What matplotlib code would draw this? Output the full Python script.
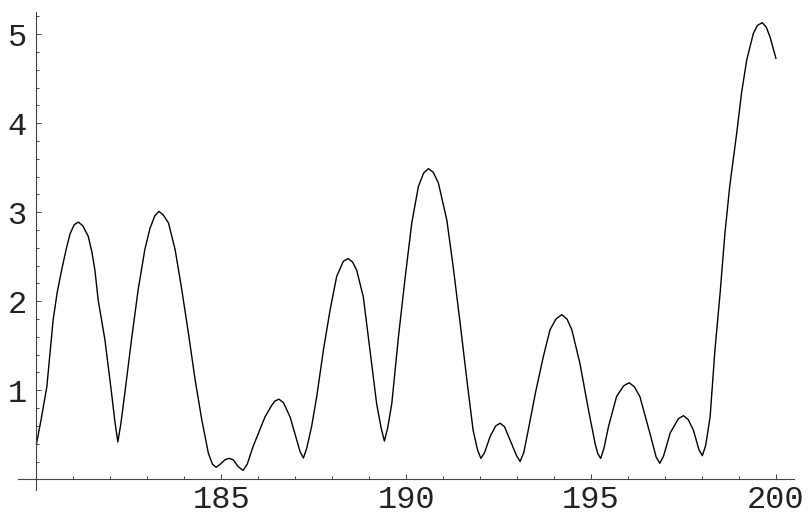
import numpy as np
import matplotlib.pyplot as plt
from matplotlib.ticker import FixedLocator

# values
t = [180.00, 180.12, 180.28, 180.45, 180.56, 180.68, 180.80, 180.91, 181.02, 181.13,
     181.25, 181.40, 181.50, 181.58, 181.67, 181.85, 182.03, 182.12, 182.20, 182.28,
     182.39, 182.57, 182.75, 182.93, 183.07, 183.20, 183.31, 183.43, 183.57, 183.75,
     183.93, 184.11, 184.29, 184.47, 184.65, 184.76, 184.86, 184.97, 185.10, 185.21,
     185.32, 185.46, 185.59, 185.70, 185.86, 186.18, 186.36, 186.45, 186.56, 186.68,
     186.86, 187.04, 187.13, 187.22, 187.31, 187.44, 187.58, 187.76, 187.94, 188.12,
     188.30, 188.43, 188.55, 188.66, 188.84, 189.02, 189.20, 189.32, 189.41, 189.50,
     189.61, 189.79, 189.97, 190.15, 190.33, 190.47, 190.60, 190.73, 190.87, 191.10,
     191.27, 191.46, 191.64, 191.81, 191.93, 192.02, 192.12, 192.27, 192.42, 192.54,
     192.66, 192.81, 192.98, 193.08, 193.18, 193.30, 193.50, 193.71, 193.89, 194.05,
     194.21, 194.35, 194.48, 194.70, 194.93, 195.11, 195.18, 195.26, 195.35, 195.47,
     195.69, 195.88, 196.03, 196.17, 196.32, 196.59, 196.76, 196.86, 196.96, 197.14,
     197.36, 197.50, 197.63, 197.77, 197.92, 198.01, 198.10, 198.22, 198.35, 198.49,
     198.62, 198.75, 198.94, 199.07, 199.21, 199.39, 199.50, 199.63, 199.74, 199.84,
     200.00]
v = [0.40, 0.66, 1.04, 1.79, 2.10, 2.35, 2.58, 2.76, 2.86, 2.89,
     2.85, 2.73, 2.55, 2.35, 2.01, 1.57, 0.97, 0.65, 0.42, 0.62,
     0.97, 1.57, 2.13, 2.58, 2.82, 2.96, 3.01, 2.97, 2.88, 2.58,
     2.13, 1.64, 1.12, 0.67, 0.29, 0.17, 0.135, 0.17, 0.22, 0.235,
     0.22, 0.14, 0.10, 0.17, 0.37, 0.70, 0.83, 0.88, 0.90, 0.86,
     0.70, 0.44, 0.31, 0.24, 0.35, 0.59, 0.93, 1.45, 1.90, 2.28,
     2.45, 2.48, 2.44, 2.35, 2.05, 1.45, 0.85, 0.58, 0.43, 0.58,
     0.85, 1.60, 2.26, 2.88, 3.29, 3.44, 3.49, 3.45, 3.33, 2.91,
     2.39, 1.75, 1.12, 0.55, 0.33, 0.235, 0.30, 0.48, 0.60, 0.63,
     0.59, 0.44, 0.27, 0.20, 0.30, 0.55, 0.98, 1.38, 1.68, 1.80,
     1.85, 1.80, 1.68, 1.30, 0.78, 0.40, 0.29, 0.235, 0.35, 0.59,
     0.93, 1.05, 1.085, 1.04, 0.93, 0.52, 0.25, 0.18, 0.26, 0.52,
     0.68, 0.715, 0.67, 0.55, 0.33, 0.265, 0.38, 0.70, 1.45, 2.09,
     2.76, 3.29, 3.89, 4.34, 4.71, 5.01, 5.10, 5.13, 5.08, 4.97,
     4.73]

x_major = [185, 190, 195, 200]
x_minor = [181, 182, 183, 184, 186, 187, 188, 189, 191, 192, 193, 194, 196, 197, 198, 199]
y_major = [1, 2, 3, 4, 5]
y_minor = [0.2, 0.4, 0.6, 0.8, 1.2, 1.4, 1.6, 1.8, 2.2, 2.4, 2.6, 2.8, 3.2, 3.4, 3.6, 3.8,
           4.2, 4.4, 4.6, 4.8, 5.2]

fig = plt.figure(figsize=(8.12, 5.19), dpi=100)
ax = fig.add_axes([0, 0, 1, 1])
ax.plot(t, v, color='black', lw=1.0, solid_joinstyle='round')

ax.set_xlim(179.013, 200.976)
ax.set_ylim(-0.446, 5.385)

for s in ['top', 'right']:
    ax.spines[s].set_visible(False)
ax.spines['bottom'].set_position(('data', 0))
ax.spines['left'].set_position(('data', 180))
ax.spines['bottom'].set_bounds(179.5, 200.5)
ax.spines['left'].set_bounds(-0.12, 5.25)
for s in ['bottom', 'left']:
    ax.spines[s].set_color('#444444')
    ax.spines[s].set_linewidth(0.8)

ax.xaxis.set_major_locator(FixedLocator(x_major))
ax.xaxis.set_minor_locator(FixedLocator(x_minor))
ax.yaxis.set_major_locator(FixedLocator(y_major))
ax.yaxis.set_minor_locator(FixedLocator(y_minor))
ax.set_xticklabels([str(x) for x in x_major])
ax.set_yticklabels([str(y) for y in y_major])

ax.tick_params(which='major', direction='in', length=3.6, width=0.7, color='#444444')
ax.tick_params(which='minor', direction='in', length=2.0, width=0.7, color='#444444')
ax.tick_params(axis='x', which='major', pad=4)
ax.tick_params(axis='y', which='major', pad=7)
for lab in ax.get_xticklabels() + ax.get_yticklabels():
    lab.set_fontfamily('Liberation Mono')
    lab.set_fontsize(23)
    lab.set_color('#222222')

fig.savefig('out.png', dpi=100)
